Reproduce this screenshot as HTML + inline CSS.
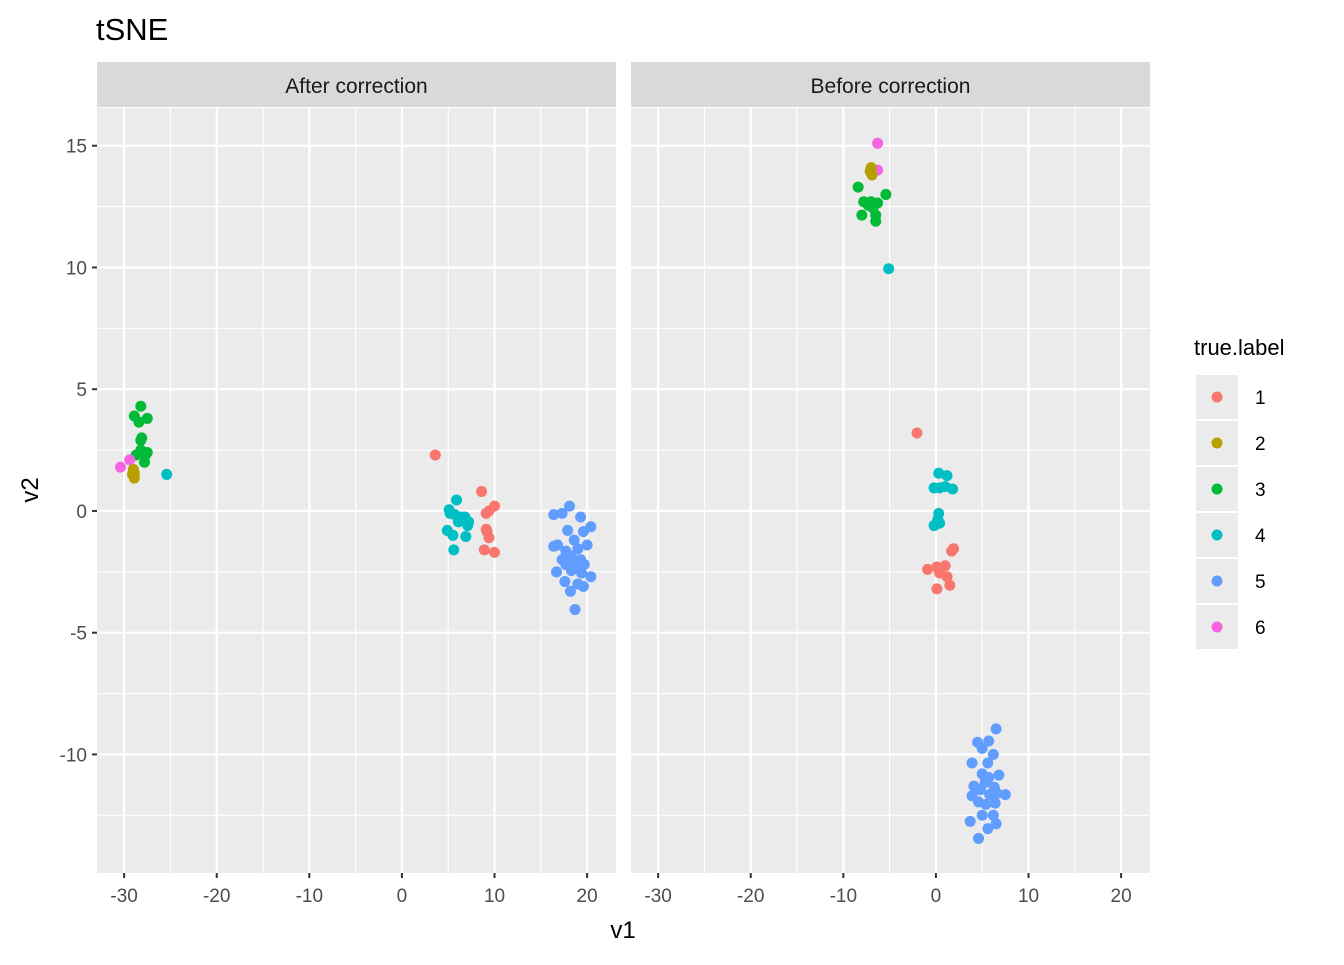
<!DOCTYPE html>
<html><head><meta charset="utf-8"><style>
body{margin:0;background:#fff;}
svg text{font-family:"Liberation Sans",Arial,sans-serif;}
</style></head><body>
<svg id="chart" width="1344" height="960" xmlns="http://www.w3.org/2000/svg">
<text x="96" y="40" font-size="31" fill="#000">tSNE</text>
<g id="panels"></g>
<text x="623" y="938" font-size="24" text-anchor="middle" fill="#000">v1</text>
<text transform="translate(38,490) rotate(-90)" font-size="24" text-anchor="middle" fill="#000">v2</text>
<g id="legend">
<text x="1194" y="355" font-size="22" fill="#000">true.label</text>
</g>
</svg>
<script>
const panelNames = ["After correction", "Before correction"];
const labels = ["1","2","3","4","5","6"];
const colors = ["#F8766D","#B79F00","#00BA38","#00BFC4","#619CFF","#F564E3"];
const xTicks = [-30,-20,-10,0,10,20];
const yTicks = [15,10,5,0,-5,-10];
// After correction
const afterLabel = [3,3,3,3,3,3,3,3,3,3,3, 6,6, 2,2,2,2, 4,
 4,4,4,4,4,4,4,4,4,4,4,4,4,
 1,1,1,1,1,1,1,1,1,1,
 5,5,5,5,5,5,5,5,5,5,5,5,5,5,5,5,5,5,5,5,5,5,5,5,5,5,5,5];
const afterX = [-28.9,-28.2,-27.5,-28.4,-28.2,-28.1,-28.2,-27.7,-27.5,-27.8,-28.7, -30.4,-29.4, -29.0,-28.9,-28.9,-29.1, -25.4,
 5.9,5.1,5.7,6.4,6.8,7.1,7.2,4.9,5.5,6.9,5.6,6.1,5.2,
 3.6,8.6,10.0,9.1,9.4,9.1,9.2,9.4,8.9,10.0,
 18.1,16.4,17.3,19.3,20.4,17.9,19.6,18.6,16.8,16.4,20.0,17.7,19.0,18.3,19.3,17.7,19.7,18.7,16.7,18.3,19.4,20.4,17.6,19.0,18.2,19.6,18.7,17.3];
const afterY = [3.9,4.3,3.8,3.65,2.9,3.0,2.5,2.3,2.4,2.0,2.3, 1.8,2.1, 1.7,1.35,1.55,1.5, 1.5,
 0.45,0.05,-0.15,-0.25,-0.25,-0.6,-0.45,-0.8,-1.0,-1.05,-1.6,-0.45,-0.1,
 2.3,0.8,0.2,-0.1,0.0,-0.75,-0.85,-1.1,-1.6,-1.7,
 0.2,-0.15,-0.1,-0.25,-0.65,-0.8,-0.85,-1.2,-1.4,-1.45,-1.4,-1.65,-1.55,-1.85,-2.0,-2.2,-2.2,-2.25,-2.5,-2.45,-2.55,-2.7,-2.9,-3.0,-3.3,-3.1,-4.05,-2.0];
// Before correction
const beforeLabel = [6,6, 2,2,2, 3,3,3,3,3,3,3,3,3,3, 4, 1,
 4,4,4,4,4,4,4,4,4,4,4,
 1,1,1,1,1,1,1,1,1,
 5,5,5,5,5,5,5,5,5,5,5,5,5,5,5,5,5,5,5,5,5,5,5,5,5,5,5];
const beforeX = [-6.3,-6.3, -7.0,-6.9,-7.1, -8.4,-7.8,-7.0,-6.3,-5.4,-6.8,-6.5,-8.0,-6.5,-7.3, -5.1, -2.05,
 0.3,1.2,1.0,-0.2,1.8,0.4,0.3,0.2,0.4,-0.2,0.0,
 1.9,1.7,-0.9,0.1,1.0,0.4,1.2,1.5,0.1,
 6.5,4.5,5.7,5.0,6.2,3.9,5.6,5.0,6.8,5.7,5.3,6.3,4.1,4.8,7.5,3.9,5.8,6.6,4.6,5.4,6.4,5.0,6.2,3.7,6.5,5.6,4.6];
const beforeY = [15.1,14.0, 14.1,13.8,13.95, 13.3,12.7,12.7,12.65,13.0,12.45,12.15,12.15,11.9,12.55, 9.95, 3.2,
 1.55,1.45,1.0,0.95,0.9,0.95,-0.1,-0.35,-0.5,-0.6,-0.55,
 -1.55,-1.65,-2.4,-2.3,-2.25,-2.55,-2.7,-3.05,-3.2,
 -8.95,-9.5,-9.45,-9.75,-10.0,-10.35,-10.35,-10.8,-10.85,-10.95,-11.15,-11.35,-11.3,-11.45,-11.65,-11.7,-11.65,-11.6,-11.95,-12.05,-12.0,-12.5,-12.5,-12.75,-12.85,-13.05,-13.45];

const NS="http://www.w3.org/2000/svg";
const svg=document.getElementById('chart');
const panelsG=document.getElementById('panels');
const panelLeft=[97,631], PW=519, TOP=108, BOT=873;
const XMIN=-32.93, XMAX=23.12, YMIN=-14.87, YMAX=16.55;
function sx(p,v){return panelLeft[p]+(v-XMIN)/(XMAX-XMIN)*PW;}
function sy(v){return BOT-(v-YMIN)/(YMAX-YMIN)*(BOT-TOP);}
function mk(tag,attrs,parent){const e=document.createElementNS(NS,tag);for(const k in attrs)e.setAttribute(k,attrs[k]);(parent||svg).appendChild(e);return e;}

const data=[[afterX,afterY,afterLabel],[beforeX,beforeY,beforeLabel]];
for(let p=0;p<2;p++){
  const g=mk('g',{},panelsG);
  
  
  const bg=mk('rect',{x:panelLeft[p],y:TOP,width:PW,height:BOT-TOP,fill:'#EBEBEB'},g);
  
  
  const st=mk('rect',{x:panelLeft[p],y:62,width:PW,height:45,fill:'#D9D9D9'},g);
  
  
  const stt=mk('text',{x:panelLeft[p]+PW/2,y:93,'font-size':'21','text-anchor':'middle',fill:'#1A1A1A'},g);
  stt.textContent=panelNames[p];
  
  
  for(let i=0;i<xTicks.length-1;i++){const v=(xTicks[i]+xTicks[i+1])/2;mk('line',{x1:sx(p,v),x2:sx(p,v),y1:TOP,y2:BOT,stroke:'#fff','stroke-width':1.1},g);}
  for(let i=0;i<yTicks.length-1;i++){const v=(yTicks[i]+yTicks[i+1])/2;mk('line',{x1:panelLeft[p],x2:panelLeft[p]+PW,y1:sy(v),y2:sy(v),stroke:'#fff','stroke-width':1.1},g);}
  mk('line',{x1:panelLeft[p],x2:panelLeft[p]+PW,y1:sy(-12.5),y2:sy(-12.5),stroke:'#fff','stroke-width':1.1},g);
  for(const v of xTicks){
    mk('line',{x1:sx(p,v),x2:sx(p,v),y1:TOP,y2:BOT,stroke:'#fff','stroke-width':2.2},g);
    mk('line',{x1:sx(p,v),x2:sx(p,v),y1:BOT,y2:BOT+5,stroke:'#333','stroke-width':2},g);
    const t=mk('text',{x:sx(p,v),y:BOT+29,'font-size':'19','text-anchor':'middle',fill:'#4D4D4D'},g);
    t.textContent=v;
    
    
  }
  for(const v of yTicks){
    mk('line',{x1:panelLeft[p],x2:panelLeft[p]+PW,y1:sy(v),y2:sy(v),stroke:'#fff','stroke-width':2.2},g);
    if(p===0){
      mk('line',{x1:92,x2:97,y1:sy(v),y2:sy(v),stroke:'#333','stroke-width':2},g);
      const t=mk('text',{x:87,y:sy(v)+7,'font-size':'19','text-anchor':'end',fill:'#4D4D4D'},g);
      t.textContent=v;
      
      
    }
  }
  const [X,Y,L]=data[p];
  for(let i=0;i<X.length;i++){
    const c=mk('circle',{cx:sx(p,X[i]),cy:sy(Y[i]),r:5.5,fill:colors[L[i]-1]},g);
    
    
  }
}
const lg=document.getElementById('legend');
for(let i=0;i<labels.length;i++){
  const y=375+i*46;
  const k=mk('rect',{x:1196,y:y,width:42,height:44,fill:'#EBEBEB'},lg);
  
  
  const c=mk('circle',{cx:1217,cy:y+22,r:5.5,fill:colors[i]},lg);
  
  
  const t=mk('text',{x:1255,y:y+29,'font-size':'19',fill:'#000'},lg);
  t.textContent=labels[i];
  
  
}
</script>
</body></html>
